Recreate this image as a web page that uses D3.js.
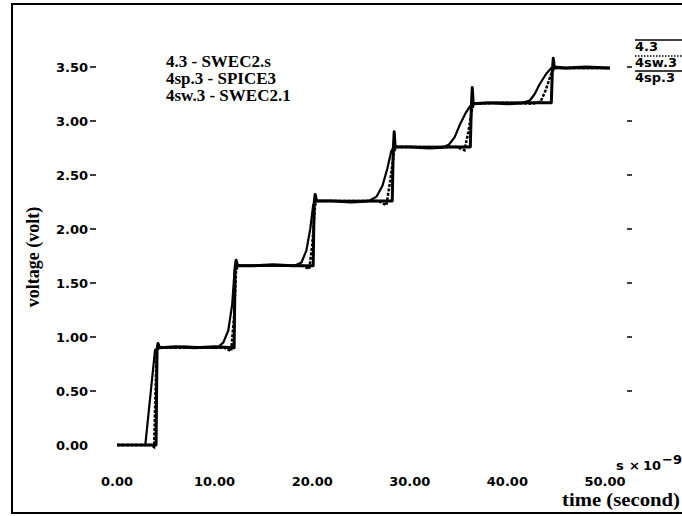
<!DOCTYPE html>
<html>
<head>
<meta charset="utf-8">
<script src="https://cdn.jsdelivr.net/npm/d3@7"></script>
<style>
  html, body { margin: 0; padding: 0; background: #fff; }
  svg { display: block; }
  .tick-label { font-family: "DejaVu Sans", sans-serif; font-weight: bold; font-size: 13px; fill: #000; }
  .serif { font-family: "Liberation Serif", "Times New Roman", serif; font-weight: bold; fill: #000; }
</style>
</head>
<body>
<script>
// Staircase voltage waveform: three simulators compared (time in ns, voltage in V)
const xTicks = [0, 10, 20, 30, 40, 50];
const yTicks = [0, 0.5, 1.0, 1.5, 2.0, 2.5, 3.0, 3.5];
const legendLabels = ["4.3 - SWEC2.s", "4sp.3 - SPICE3", "4sw.3 - SWEC2.1"];
const keyNames = ["4.3", "4sw.3", "4sp.3"];

// SWEC2.s: rises early with a gradual ramp ahead of each step
const swec2s = [
  [0, 0], [2.9, 0], [3.9, 0.88], [4.3, 0.90], [7, 0.91], [10.3, 0.90],
  [10.9, 0.95], [11.4, 1.06], [11.8, 1.30], [12.05, 1.62], [12.3, 1.66],
  [15, 1.66], [18.2, 1.66], [18.9, 1.69], [19.4, 1.80], [19.8, 2.00], [20.1, 2.22], [20.4, 2.26],
  [23, 2.26], [25.8, 2.26], [26.6, 2.30], [27.2, 2.40], [27.7, 2.56], [28.1, 2.72], [28.4, 2.76],
  [31, 2.76], [33.4, 2.76], [34.0, 2.78], [34.6, 2.85], [35.1, 2.96], [35.7, 3.07], [36.2, 3.14], [36.5, 3.16],
  [39, 3.17], [41.6, 3.17], [42.3, 3.19], [42.8, 3.25], [43.3, 3.34], [44.0, 3.44], [44.5, 3.49],
  [47, 3.49], [50.5, 3.49]
];

// SWEC2.1: small dip, then a slightly sloped rise just before the step
const swec21 = [
  [0, 0], [3.5, 0], [3.8, -0.02], [4.05, 0.85], [4.25, 0.90], [8, 0.90],
  [11.0, 0.90], [11.7, 0.87], [12.0, 1.20], [12.2, 1.62], [12.4, 1.66],
  [16, 1.66], [19.0, 1.66], [19.7, 1.63], [20.0, 1.85], [20.3, 2.22], [20.5, 2.26],
  [24, 2.26], [26.8, 2.26], [27.6, 2.22], [28.0, 2.45], [28.4, 2.72], [28.6, 2.76],
  [32, 2.76], [34.8, 2.76], [35.6, 2.73], [36.0, 2.90], [36.4, 3.12], [36.6, 3.16],
  [40, 3.17], [42.6, 3.16], [43.4, 3.18], [43.9, 3.28], [44.5, 3.44], [44.8, 3.49],
  [48, 3.49], [50.5, 3.49]
];

// SPICE3: sharp vertical steps with a short overshoot spike
const spice3 = [
  [0, 0], [2, 0.0], [4.0, 0.0], [4.1, 0.88], [4.2, 0.94], [4.35, 0.90],
  [6, 0.91], [8, 0.90], [10, 0.91], [12.0, 0.90], [12.1, 1.64], [12.2, 1.71], [12.35, 1.66],
  [14, 1.66], [16, 1.67], [18, 1.66], [20.1, 1.66], [20.2, 2.24], [20.3, 2.32], [20.45, 2.26],
  [22, 2.26], [24, 2.25], [26, 2.26], [28.2, 2.26], [28.3, 2.72], [28.4, 2.90], [28.5, 2.76],
  [30, 2.76], [32, 2.75], [34, 2.76], [36.2, 2.76], [36.3, 3.12], [36.4, 3.31], [36.5, 3.16],
  [38, 3.17], [40, 3.16], [42, 3.17], [44.5, 3.17], [44.6, 3.45], [44.7, 3.58], [44.8, 3.50],
  [46, 3.49], [48, 3.50], [50.5, 3.49]
];

const W = 682, H = 516;
const svg = d3.select("body").append("svg").attr("width", W).attr("height", H);

const x = d3.scaleLinear().domain([0, 50]).range([117, 605]);
const y = d3.scaleLinear().domain([0, 3.5]).range([445, 67]);

// outer frame (runs off the right edge)
svg.append("path")
  .attr("d", `M ${W + 5} 4 H 12 V 513 H ${W + 5}`)
  .attr("fill", "none").attr("stroke", "#000").attr("stroke-width", 2);

// left axis: labels with short dash ticks
const yAxis = svg.append("g");
yAxis.selectAll("text").data(yTicks).join("text")
  .attr("class", "tick-label")
  .attr("x", 88).attr("y", d => y(d)).attr("dy", "0.36em")
  .attr("text-anchor", "end")
  .text(d => d.toFixed(2));
yAxis.selectAll("line").data(yTicks.filter(d => d > 0)).join("line")
  .attr("x1", 90).attr("x2", 96).attr("y1", d => y(d)).attr("y2", d => y(d))
  .attr("stroke", "#000").attr("stroke-width", 1.5);

// right-hand ticks
svg.append("g").selectAll("line").data(yTicks.filter(d => d > 0)).join("line")
  .attr("x1", 627).attr("x2", 632).attr("y1", d => y(d)).attr("y2", d => y(d))
  .attr("stroke", "#000").attr("stroke-width", 1.5);

// bottom axis labels
svg.append("g").selectAll("text").data(xTicks).join("text")
  .attr("class", "tick-label")
  .attr("x", d => x(d)).attr("y", 486)
  .attr("text-anchor", "middle")
  .text(d => d.toFixed(2));

// axis titles
svg.append("text").attr("class", "serif")
  .attr("transform", "translate(39,257) rotate(-90)")
  .attr("text-anchor", "middle").attr("font-size", 18)
  .text("voltage (volt)");
svg.append("text").attr("class", "serif")
  .attr("x", 562).attr("y", 506).attr("font-size", 19)
  .attr("textLength", 118).attr("lengthAdjust", "spacingAndGlyphs")
  .text("time (second)");

// unit multiplier (exponent runs into the right edge)
const unit = svg.append("text").attr("class", "tick-label").attr("y", 470);
unit.append("tspan").attr("x", 616).text("s");
unit.append("tspan").attr("x", 629).text("\u00d7");
unit.append("tspan").attr("x", 643).text("10");
unit.append("tspan").attr("x", 662).attr("dy", -6).text("\u22129");

// series
const line = d3.line().x(d => x(d[0])).y(d => y(d[1]));
svg.append("path").datum(swec2s).attr("d", line)
  .attr("fill", "none").attr("stroke", "#000").attr("stroke-width", 2.2)
  .attr("stroke-linejoin", "round");
svg.append("path").datum(swec21).attr("d", line)
  .attr("fill", "none").attr("stroke", "#000").attr("stroke-width", 2.5)
  .attr("stroke-dasharray", "3 1.5");
svg.append("path").datum(spice3).attr("d", line)
  .attr("fill", "none").attr("stroke", "#000").attr("stroke-width", 3)
  .attr("stroke-linejoin", "round");

// text legend, upper left
svg.append("g").selectAll("text").data(legendLabels).join("text")
  .attr("class", "serif").attr("font-size", 17)
  .attr("x", 166).attr("y", (d, i) => 67 + i * 17)
  .text(d => d);

// line-style key on the right edge
const keyStyles = [null, "1.5 1.5", null];
const key = svg.append("g");
keyNames.forEach((name, i) => {
  const ky = [47, 63, 78][i];
  key.append("line")
    .attr("x1", 635).attr("x2", W + 5).attr("y1", ky - 7).attr("y2", ky - 7)
    .attr("stroke", "#000").attr("stroke-width", 1.5)
    .attr("stroke-dasharray", keyStyles[i]);
  key.append("text").attr("class", "tick-label").attr("font-size", 12)
    .attr("x", 635).attr("y", ky + 4).text(name);
});
</script>
</body>
</html>
